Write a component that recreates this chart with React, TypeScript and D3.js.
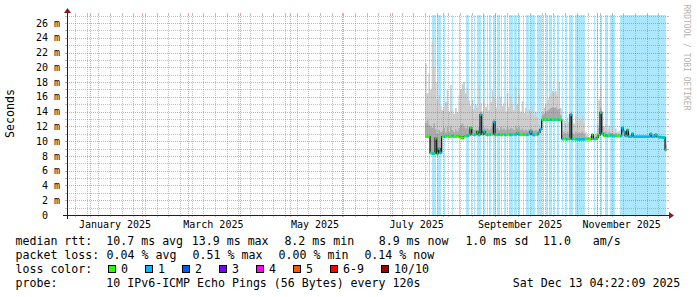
import React from "react";
import * as d3 from "d3";

// ---------- data ----------
const START_TIME = Date.UTC(2024, 11, 18, 4, 22, 9);
const END_TIME = Date.UTC(2025, 11, 13, 4, 22, 9);
const Y_MAX_MS = 27.08;
const DATA_START_DAY = "2025-07-21"; // first daily sample
const DAY = 864e5;

// median RTT (ms), one value per day
const medianMs = [
  10.6, 10.6, 10.6, 8.4, 8.3, 8.3, 10.4, 8.3, 9.0, 8.4,
  10.6, 10.6, 10.6, 10.7, 10.6, 10.6, 10.7, 10.6, 10.6, 10.7,
  10.6, 10.5, 10.4, 10.6, 10.7, 10.7, 10.8, 11.8, 10.9, 10.85,
  10.9, 11.3, 10.85, 13.6, 10.9, 11.3, 10.9, 10.85, 10.9, 10.9,
  10.9, 12.6, 10.85, 10.9, 10.9, 10.85, 10.9, 10.9, 10.85, 10.9,
  10.9, 10.85, 10.9, 10.9, 10.9, 11.1, 10.9, 10.85, 10.9, 10.9,
  10.85, 10.9, 10.9, 11.3, 10.9, 10.85, 10.9, 10.9, 11.2, 11.6,
  12.9, 12.9, 12.9, 12.9, 12.9, 12.9, 12.9, 12.9, 12.9, 12.9,
  12.9, 12.9, 10.3, 10.25, 10.25, 10.25, 10.3, 13.6, 10.25, 10.25,
  10.25, 10.25, 10.2, 10.25, 10.25, 10.25, 10.25, 10.3, 10.25, 10.25,
  10.9, 10.3, 10.3, 10.5, 10.8, 13.9, 11.0, 10.75, 10.8, 10.7,
  10.75, 10.8, 10.7, 10.7, 10.75, 10.7, 10.7, 10.7, 11.8, 11.3,
  10.7, 11.5, 10.6, 10.6, 11.0, 10.6, 10.6, 10.6, 10.6, 10.6,
  10.6, 10.6, 10.6, 10.6, 10.6, 11.0, 10.6, 10.6, 10.9, 10.6,
  10.55, 10.55, 10.5, 10.5, 8.8,
];

// highest ping of the day (ms) - outer smoke
const smokeTopMs = [
  20.5, 16.5, 19.2, 17.0, 23.5, 20.0, 18.0, 15.6, 16.2, 14.8,
  14.2, 14.6, 15.3, 16.9, 14.0, 17.6, 14.2, 13.7, 14.5, 13.9,
  16.2, 17.0, 17.7, 18.0, 16.5, 17.2, 15.5, 14.8, 15.6, 14.3,
  15.0, 14.5, 17.6, 15.2, 14.0, 15.5, 14.6, 15.0, 14.2, 15.3,
  16.9, 16.0, 14.5, 15.8, 14.3, 16.0, 14.8, 15.2, 14.0, 16.5,
  14.6, 16.0, 15.0, 14.2, 17.3, 15.0, 16.4, 14.0, 15.4, 13.8,
  14.5, 13.6, 14.3, 13.9, 14.6, 13.5, 14.0, 13.3, 12.4, 12.0,
  13.9, 14.5, 15.0, 15.6, 15.9, 16.3, 16.8, 16.6, 16.8, 16.2,
  18.0, 14.5, 11.5, 12.9, 12.5, 13.2, 12.6, 14.0, 12.8, 12.4,
  13.4, 12.6, 13.1, 12.8, 13.4, 12.5, 11.2, 10.8, 10.6, 10.7,
  11.0, 10.8, 11.0, 12.2, 15.6, 17.4, 14.0, 12.0, 12.3, 11.6,
  12.1, 11.5, 11.9, 11.4, 11.7, 11.2, 11.4, 11.1, 11.9, 11.4,
  10.9, 11.7, 10.8, 10.8, 11.1, 10.8, 10.8, 10.8, 10.8, 10.8,
  10.8, 10.8, 10.8, 10.7, 10.8, 11.1, 10.8, 10.8, 11.0, 10.8,
  10.7, 10.7, 10.7, 10.6, 10.6,
];

// upper edge of the dense smoke core (ms)
const smokeCoreMs = [
  12.4, 12.8, 12.2, 12.0, 11.8, 12.4, 11.6, 11.0, 11.5, 11.2,
  11.4, 11.8, 11.2, 11.9, 11.3, 12.0, 11.5, 11.2, 11.6, 11.3,
  11.8, 12.2, 12.4, 12.0, 11.7, 12.1, 11.6, 12.0, 11.6, 11.5,
  11.6, 11.5, 11.9, 14.0, 11.5, 11.8, 11.6, 11.7, 11.5, 11.7,
  12.0, 13.0, 11.6, 11.8, 11.5, 11.9, 11.6, 11.7, 11.5, 11.9,
  11.6, 11.8, 11.7, 11.5, 12.1, 11.7, 11.9, 11.5, 11.7, 11.4,
  11.6, 11.4, 11.6, 11.7, 11.6, 11.4, 11.5, 11.3, 11.6, 11.8,
  13.5, 13.7, 13.9, 14.1, 14.3, 14.5, 14.6, 14.5, 14.6, 14.3,
  14.4, 13.5, 10.8, 11.2, 11.0, 11.3, 11.0, 13.8, 11.1, 10.9,
  11.3, 11.0, 11.2, 11.1, 11.3, 11.0, 10.6, 10.5, 10.4, 10.5,
  10.95, 10.5, 10.6, 11.0, 11.8, 14.5, 12.0, 11.2, 11.3, 11.0,
  11.2, 11.1, 11.1, 11.0, 11.1, 10.9, 11.0, 10.9, 11.85, 11.35,
  10.8, 11.6, 10.7, 10.7, 11.05, 10.7, 10.7, 10.7, 10.7, 10.7,
  10.7, 10.7, 10.7, 10.65, 10.7, 11.05, 10.7, 10.7, 10.95, 10.7,
  10.6, 10.6, 10.6, 10.55, 9.5,
];

// periods with packet loss, as [start, end] in fractional day-of-year 2025 (Jan 1 00:00 = 0)
const lossPeriodsDOY: [number, number][] = [
  [203.38, 204.28], [205.18, 206.2], [206.68, 207.58], [208.18, 210.58],
  [212.38, 212.98], [217.18, 217.96], [221.38, 221.98], [225.88, 227.56],
  [228.4, 229.48], [230.38, 231.28], [232.18, 234.4], [235.96, 236.98],
  [237.98, 238.78], [239.68, 240.58], [241.96, 243.58], [244.36, 245.98],
  [246.88, 247.48], [248.56, 249.58], [251.56, 253.6], [254.56, 256.0],
  [256.6, 257.98], [259.78, 260.56], [261.58, 263.2], [263.98, 266.98],
  [268.0, 271.0], [271.78, 272.68], [273.88, 274.78], [275.68, 277.18],
  [278.38, 279.28], [280.36, 281.68], [283.18, 283.78], [285.58, 286.48],
  [287.56, 289.96], [290.98, 296.98], [302.38, 303.28], [304.18, 304.78],
  [306.28, 307.48], [308.98, 310.96], [311.98, 313.6], [314.08, 314.98],
  [317.98, 345.6],
];

const yMajorTicksMs = [0, 2, 4, 6, 8, 10, 12, 14, 16, 18, 20, 22, 24, 26];
const xLabelMonths = ["2025-01", "2025-03", "2025-05", "2025-07", "2025-09", "2025-11"];

const lossLegend = [
  { label: "0", color: "#26ff00" },
  { label: "1", color: "#00b8ff" },
  { label: "2", color: "#0059ff" },
  { label: "3", color: "#7e00ff" },
  { label: "4", color: "#ff00ff" },
  { label: "5", color: "#ff5500" },
  { label: "6-9", color: "#ff0000" },
  { label: "10/10", color: "#a10000" },
];

const legendRow1 = [
  { x: 15.5, s: "median rtt:" },
  { x: 106.3, s: "10.7 ms avg" },
  { x: 191.8, s: "13.9 ms max" },
  { x: 284.4, s: "8.2 ms min" },
  { x: 378.7, s: "8.9 ms now" },
  { x: 465.4, s: "1.0 ms sd" },
  { x: 543.0, s: "11.0" },
  { x: 592.8, s: "am/s" },
];
const legendRow2 = [
  { x: 15.5, s: "packet loss:" },
  { x: 106.6, s: "0.04 % avg" },
  { x: 192.6, s: "0.51 % max" },
  { x: 278.6, s: "0.00 % min" },
  { x: 364.4, s: "0.14 % now" },
];
const legendRow4 = [
  { x: 15.5, s: "probe:" },
  { x: 106.3, s: "10 IPv6-ICMP Echo Pings (56 Bytes) every 120s" },
  { x: 512.8, s: "Sat Dec 13 04:22:09 2025" },
];

// ---------- layout ----------
const X0 = 67, X1 = 667, Y0 = 215, Y1 = 15;
const MONO = "DejaVu Sans Mono";
const MINOR = "rgba(140,140,140,0.55)";
const MAJOR = "rgba(222,79,79,0.55)";

type P = { t: Date; m: number; top: number; core: number };

export default function App() {
  const x = d3.scaleUtc().domain([new Date(START_TIME), new Date(END_TIME)]).range([X0, X1]);
  const y = d3.scaleLinear().domain([0, Y_MAX_MS]).range([Y0, Y1]);
  const px = (v: number) => Math.round(v) + 0.5;

  const dayStart = Date.parse(DATA_START_DAY + "T00:00:00Z");
  const pts: P[] = medianMs.map((m, i) => ({
    t: new Date(dayStart + i * DAY),
    m,
    top: smokeTopMs[i],
    core: smokeCoreMs[i],
  }));
  pts.push({ ...pts[pts.length - 1], t: new Date(dayStart + medianMs.length * DAY) });

  const lightArea = d3.area<P>().curve(d3.curveStepAfter).x((d) => x(d.t)).y0((d) => y(d.m)).y1((d) => y(d.top));
  const coreArea = d3.area<P>().curve(d3.curveStepAfter).x((d) => x(d.t)).y0((d) => y(d.m)).y1((d) => y(d.core));
  const medLine = d3.line<P>().curve(d3.curveStepAfter).x((d) => x(d.t)).y((d) => y(d.m));
  const medBand = d3.area<P>().curve(d3.curveStepAfter).x((d) => x(d.t)).y0((d) => y(d.m) + 1.3).y1((d) => y(d.m) - 1.3);

  const doyDate = (d: number) => new Date(Date.UTC(2025, 0, 1) + d * DAY);
  const lossRects = lossPeriodsDOY.map(([a, b]) => {
    const xa = x(doyDate(a));
    const xb = x(doyDate(b));
    return { x: xa, w: Math.max(1, xb - xa) };
  });

  const tStart = new Date(START_TIME), tEnd = new Date(END_TIME);
  const majorX = d3.utcMonth.range(tStart, tEnd);
  const majorSet = new Set(majorX.map((d) => +d));
  const minorX = d3.utcMonday.range(tStart, tEnd).filter((d) => !majorSet.has(+d));
  const minorY = d3.range(1, Math.floor(Y_MAX_MS) + 1).filter((v) => v % 2 === 1);
  const majorY = yMajorTicksMs.filter((v) => v > 0);

  const labels = xLabelMonths.map((m) => {
    const d = new Date(m + "-01T00:00:00Z");
    return { x: x(new Date(+d + 15 * DAY)), s: d3.utcFormat("%B %Y")(d) };
  });

  // legend box positions
  let bx = 108;
  const boxes = lossLegend.map((l) => {
    const r = { ...l, x: bx };
    bx += 30 + 7 * l.label.length;
    return r;
  });

  return (
    <svg
      width={697}
      height={297}
      style={{ position: "absolute", left: 0, top: 0, display: "block", background: "#fff" }}
      fontFamily={MONO}
    >
      <rect x={0} y={0} width={697} height={297} fill="#ffffff" />
      <defs>
        <clipPath id="lossclip">
          {lossRects.map((r, i) => (
            <rect key={i} x={r.x} y={0} width={r.w} height={297} />
          ))}
        </clipPath>
      </defs>

      {/* loss background */}
      <g shapeRendering="crispEdges">
        {lossRects.map((r, i) => (
          <rect key={i} x={r.x} y={Y1} width={r.w} height={Y0 - Y1} fill="#00b8ff" fillOpacity={0.33} />
        ))}
      </g>

      {/* smoke */}
      <path d={lightArea(pts) || ""} fill="#cdcdcd" />
      <path d={coreArea(pts) || ""} fill="#ababab" />

      {/* grid (on top of the graph, translucent) */}
      <g shapeRendering="crispEdges" strokeWidth={1}>
        {minorY.map((v) => (
          <g key={"my" + v} stroke={MINOR}>
            <line x1={X0} x2={X1} y1={px(y(v))} y2={px(y(v))} strokeDasharray="1 1" />
            <line x1={X0 - 2} x2={X0} y1={px(y(v))} y2={px(y(v))} />
            <line x1={X1} x2={X1 + 2} y1={px(y(v))} y2={px(y(v))} />
          </g>
        ))}
        {minorX.map((d) => (
          <g key={"mx" + +d} stroke={MINOR}>
            <line x1={px(x(d))} x2={px(x(d))} y1={Y1} y2={Y0} strokeDasharray="1 1" />
            <line x1={px(x(d))} x2={px(x(d))} y1={Y1 - 2} y2={Y1} />
            <line x1={px(x(d))} x2={px(x(d))} y1={Y0} y2={Y0 + 2} />
          </g>
        ))}
        {majorY.map((v) => (
          <g key={"My" + v} stroke={MAJOR}>
            <line x1={X0} x2={X1} y1={px(y(v))} y2={px(y(v))} strokeDasharray="1 1" />
            <line x1={X0 - 2} x2={X0} y1={px(y(v))} y2={px(y(v))} />
            <line x1={X1} x2={X1 + 2} y1={px(y(v))} y2={px(y(v))} />
          </g>
        ))}
        {majorX.map((d) => (
          <g key={"Mx" + +d} stroke={MAJOR}>
            <line x1={px(x(d))} x2={px(x(d))} y1={Y1} y2={Y0} strokeDasharray="1 1" />
            <line x1={px(x(d))} x2={px(x(d))} y1={Y1 - 2} y2={Y1} />
            <line x1={px(x(d))} x2={px(x(d))} y1={Y0} y2={Y0 + 2} />
          </g>
        ))}
      </g>

      {/* median */}
      <path d={medLine(pts) || ""} fill="none" stroke="#111" strokeWidth={1.2} />
      <path d={medBand(pts) || ""} fill="#26ff00" />
      <path d={medBand(pts) || ""} fill="#00b8ff" clipPath="url(#lossclip)" />

      {/* axes */}
      <g shapeRendering="crispEdges" stroke="#1f1f1f" strokeWidth={1}>
        <line x1={X0 - 4} x2={X1 + 4} y1={Y0 + 0.5} y2={Y0 + 0.5} />
        <line x1={X0 + 0.5} x2={X0 + 0.5} y1={Y0 + 4} y2={Y1 - 4} />
      </g>
      <path d={`M${X1 + 2},${Y0 - 3}L${X1 + 2},${Y0 + 4}L${X1 + 7},${Y0 + 0.5}Z`} fill="#801f1f" />
      <path d={`M${X0 - 3},${Y1 - 2}L${X0 + 4},${Y1 - 2}L${X0 + 0.5},${Y1 - 7}Z`} fill="#801f1f" />

      {/* axis labels */}
      <g fontSize={10} fill="#000">
        {yMajorTicksMs.map((v) => (
          <g key={"yl" + v}>
            <text x={48} y={y(v) + 3.6} textAnchor="end">{String(v)}</text>
            {v > 0 && <text x={54} y={y(v) + 3.6}>m</text>}
          </g>
        ))}
        {labels.map((l) => (
          <text key={l.s} x={l.x} y={227.5} textAnchor="middle">{l.s}</text>
        ))}
      </g>

      <text transform="translate(14,113.5) rotate(-90)" textAnchor="middle" fontSize={11.6} fill="#000">Seconds</text>
      <text transform="translate(684,4.5) rotate(90)" fontSize={8} fill="#b3b3b3">RRDTOOL / TOBI OETIKER</text>

      {/* legend */}
      <g fontSize={11.6} fill="#000" style={{ whiteSpace: "pre" }}>
        {legendRow1.map((t, i) => (
          <text key={"a" + i} x={t.x} y={245}>{t.s}</text>
        ))}
        {legendRow2.map((t, i) => (
          <text key={"b" + i} x={t.x} y={259}>{t.s}</text>
        ))}
        <text x={15.5} y={273}>loss color:</text>
        {boxes.map((b) => (
          <g key={b.label}>
            <rect x={b.x + 0.5} y={265.5} width={7} height={7} fill={b.color} stroke="#000" strokeWidth={1} shapeRendering="crispEdges" />
            <text x={b.x + 13} y={273}>{b.label}</text>
          </g>
        ))}
        {legendRow4.map((t, i) => (
          <text key={"d" + i} x={t.x} y={287}>{t.s}</text>
        ))}
      </g>
    </svg>
  );
}
